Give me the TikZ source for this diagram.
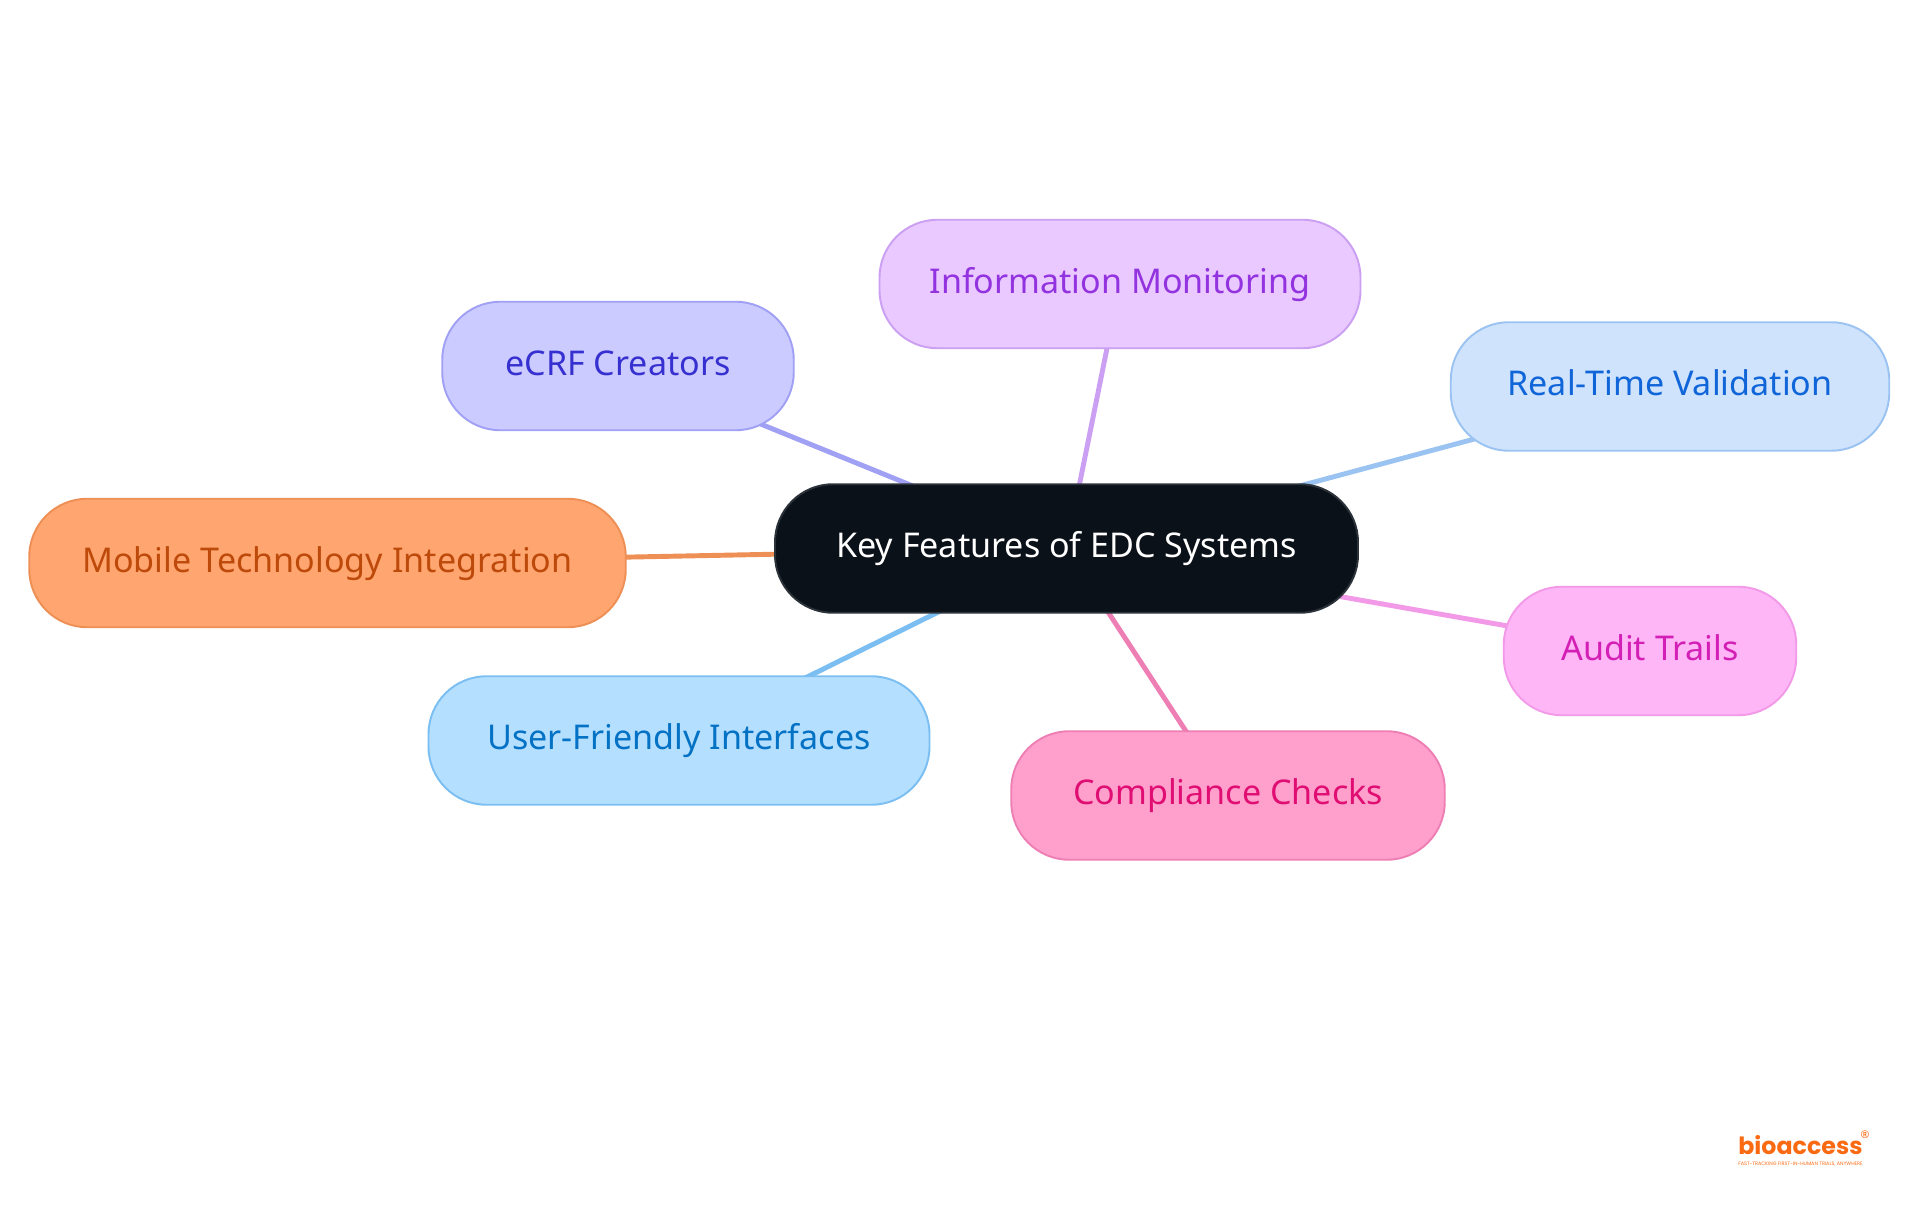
\documentclass[tikz,border=0pt]{standalone}
\usepackage{fontspec}
\setmainfont{Noto Sans}
\newfontfamily\logofont{Poppins}
\usetikzlibrary{backgrounds}
\definecolor{hubfill}{HTML}{0B1119}
\definecolor{hubline}{HTML}{2C3239}
\definecolor{ecrffill}{HTML}{CBCBFF}
\definecolor{ecrfline}{HTML}{A0A0F5}
\definecolor{ecrftext}{HTML}{3730D0}
\definecolor{infofill}{HTML}{E9C9FF}
\definecolor{infoline}{HTML}{CB9FF2}
\definecolor{infotext}{HTML}{9333E0}
\definecolor{realfill}{HTML}{CFE3FD}
\definecolor{realline}{HTML}{9BC3F2}
\definecolor{realtext}{HTML}{1065D8}
\definecolor{auditfill}{HTML}{FFB6F7}
\definecolor{auditline}{HTML}{F29AE8}
\definecolor{audittext}{HTML}{D31FB5}
\definecolor{compfill}{HTML}{FFA0CC}
\definecolor{compline}{HTML}{EE7FB4}
\definecolor{comptext}{HTML}{E00D73}
\definecolor{userfill}{HTML}{B5DFFF}
\definecolor{userline}{HTML}{7BBEF2}
\definecolor{usertext}{HTML}{0472C4}
\definecolor{mobilefill}{HTML}{FFA570}
\definecolor{mobileline}{HTML}{EE8F56}
\definecolor{mobiletext}{HTML}{BD4A0A}
\definecolor{logoorange}{HTML}{F96A12}
\tikzset{
    pill/.style={rectangle, rounded corners=1.16cm, minimum height=2.57cm, inner sep=0pt, line width=1.1pt,
        text height=0.6cm, text depth=0.22cm, font=\fontsize{19.4}{22}\selectfont},
    branch/.style={line width=2.8pt},
}
\begin{document}
\begin{tikzpicture}
    \useasboundingbox (0,0) rectangle (38.4,24.3);

    \node[pill, draw=hubline, fill=hubfill, text=white, minimum width=11.66cm] (hub) at (21.33,13.33) {Key Features of EDC Systems};

    \node[pill, draw=ecrfline, fill=ecrffill, text=ecrftext, minimum width=7.03cm] (ecrf) at (12.36,16.98) {eCRF Creators};
    \node[pill, draw=infoline, fill=infofill, text=infotext, minimum width=9.62cm] (info) at (22.40,18.62) {Information Monitoring};
    \node[pill, draw=realline, fill=realfill, text=realtext, minimum width=8.77cm] (real) at (33.40,16.57) {Real-Time Validation};
    \node[pill, draw=auditline, fill=auditfill, text=audittext, minimum width=5.85cm] (audit) at (33.00,11.28) {Audit Trails};
    \node[pill, draw=compline, fill=compfill, text=comptext, minimum width=8.67cm] (comp) at (24.56,8.39) {Compliance Checks};
    \node[pill, draw=userline, fill=userfill, text=usertext, minimum width=10.02cm] (user) at (13.58,9.49) {User-Friendly Interfaces};
    \node[pill, draw=mobileline, fill=mobilefill, text=mobiletext, minimum width=11.93cm] (mobile) at (6.55,13.04) {Mobile Technology Integration};

    \begin{scope}[on background layer]
        \draw[branch, ecrfline] (hub.center) -- (ecrf.center);
        \draw[branch, infoline] (hub.center) -- (info.center);
        \draw[branch, realline] (hub.center) -- (real.center);
        \draw[branch, auditline] (hub.center) -- (audit.center);
        \draw[branch, compline] (hub.center) -- (comp.center);
        \draw[branch, userline] (hub.center) -- (user.center);
        \draw[branch, mobileline] (hub.center) -- (mobile.center);
    \end{scope}

    \node[inner sep=0pt, anchor=base west, text=logoorange, font=\logofont\fontsize{13.5}{14}\selectfont\bfseries] (logo) at (34.76,1.22) {bioaccess};
    \node[inner sep=0pt, anchor=base west, text=logoorange, font=\logofont\fontsize{2.8}{3}\selectfont] (tagline) at (34.76,1.00) {FAST-TRACKING FIRST-IN-HUMAN TRIALS, ANYWHERE};
    \node[inner sep=0pt, text=logoorange, font=\fontsize{6}{6}\selectfont] (regmark) at (37.30,1.60) {®};
\end{tikzpicture}
\end{document}
